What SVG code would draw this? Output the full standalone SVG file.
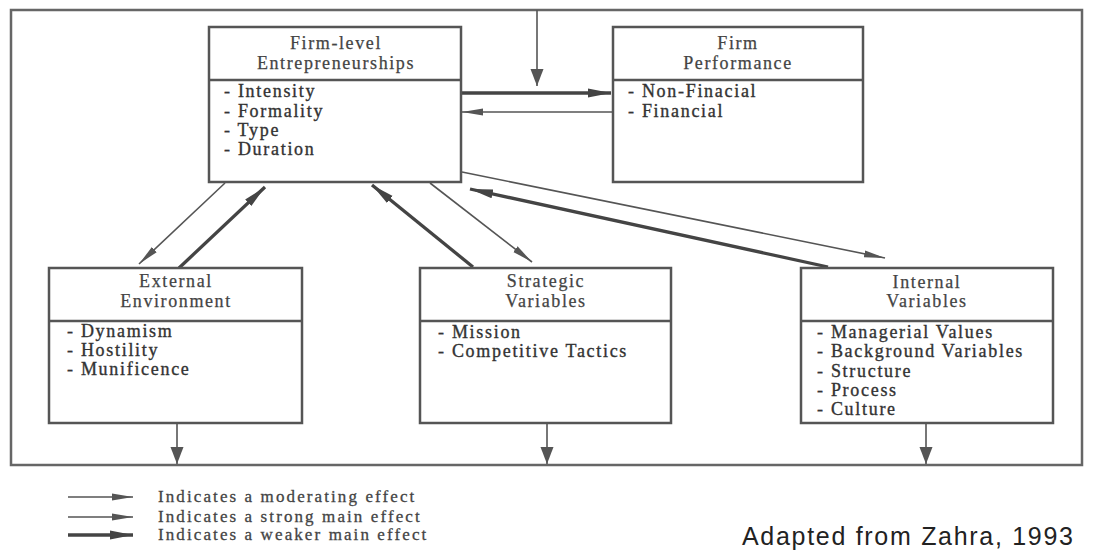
<svg xmlns="http://www.w3.org/2000/svg" width="1093" height="552" viewBox="0 0 1093 552">
<defs>
<style>
.frame{fill:none;stroke:#666;stroke-width:2.5}
.box{fill:#fff;stroke:#555;stroke-width:2.5}
.div{stroke:#555;stroke-width:2.5}
.hd{font-family:"Liberation Serif","Times New Roman",serif;font-size:18px;fill:#444;stroke:#444;stroke-width:0.25;text-anchor:middle;letter-spacing:1.6px}
.it{font-family:"Liberation Serif","Times New Roman",serif;font-size:18px;fill:#333;stroke:#333;stroke-width:0.35;letter-spacing:1.7px}
.lg{font-family:"Liberation Serif","Times New Roman",serif;font-size:17px;fill:#444;stroke:#444;stroke-width:0.3;letter-spacing:2.1px}
.thin{fill:none;stroke:#555;stroke-width:1.6;marker-end:url(#hThin)}
.thick{fill:none;stroke:#444;stroke-width:3.3;marker-end:url(#hThick)}
.vert{fill:none;stroke:#555;stroke-width:1.6;marker-end:url(#hWide)}
.src{font-family:"Liberation Sans",Arial,sans-serif;font-size:25px;fill:#222;letter-spacing:1.7px}
</style>
<marker id="hThin" markerUnits="userSpaceOnUse" markerWidth="22" markerHeight="10" refX="21" refY="4" orient="auto"><path d="M0,0.5 L21,4 L0,7.5 z" fill="#555"/></marker>
<marker id="hThick" markerUnits="userSpaceOnUse" markerWidth="24" markerHeight="11" refX="23" refY="5" orient="auto"><path d="M0,0.5 L23,5 L0,9.5 z" fill="#444"/></marker>
<marker id="hWide" markerUnits="userSpaceOnUse" markerWidth="18" markerHeight="14" refX="17" refY="6.5" orient="auto"><path d="M0,0 L17,6.5 L0,13 z" fill="#555"/></marker>
</defs>
<rect width="1093" height="552" fill="#fff"/>
<rect class="frame" x="11" y="10" width="1071" height="455"/>

<g id="connectors">
<line class="vert" x1="537" y1="10" x2="537" y2="86"/>
<line class="thick" x1="461" y1="93" x2="611" y2="93"/>
<line class="thin" x1="613" y1="112" x2="462" y2="112"/>
<line class="thin" x1="225" y1="183" x2="139" y2="264"/>
<line class="thick" x1="179" y1="268" x2="265" y2="187"/>
<line class="thick" x1="473" y1="267" x2="372" y2="185"/>
<line class="thin" x1="430" y1="183" x2="532" y2="262"/>
<line class="thin" x1="462" y1="172" x2="885" y2="258"/>
<line class="thick" x1="828" y1="267" x2="470" y2="189"/>
<line class="vert" x1="177" y1="424" x2="177" y2="464"/>
<line class="vert" x1="547" y1="424" x2="547" y2="464"/>
<line class="vert" x1="926" y1="424" x2="926" y2="464"/>
</g>

<g id="firm-entrepreneurship">
<rect class="box" x="209" y="27" width="252" height="155"/>
<line class="div" x1="209" y1="80" x2="461" y2="80"/>
<text class="hd" x="336" y="49">Firm-level</text>
<text class="hd" x="336" y="69">Entrepreneurships</text>
<text class="it" x="224" y="97">- Intensity</text>
<text class="it" x="224" y="117">- Formality</text>
<text class="it" x="224" y="136">- Type</text>
<text class="it" x="224" y="155">- Duration</text>
</g>

<g id="firm-performance">
<rect class="box" x="613" y="27" width="250" height="155"/>
<line class="div" x1="613" y1="80" x2="863" y2="80"/>
<text class="hd" x="738" y="49">Firm</text>
<text class="hd" x="738" y="69">Performance</text>
<text class="it" x="628" y="97">- Non-Finacial</text>
<text class="it" x="628" y="117">- Financial</text>
</g>

<g id="external-environment">
<rect class="box" x="49" y="268" width="253" height="155"/>
<line class="div" x1="49" y1="321" x2="302" y2="321"/>
<text class="hd" x="176" y="287">External</text>
<text class="hd" x="176" y="307">Environment</text>
<text class="it" x="67" y="337">- Dynamism</text>
<text class="it" x="67" y="356">- Hostility</text>
<text class="it" x="67" y="375">- Munificence</text>
</g>

<g id="strategic-variables">
<rect class="box" x="420" y="268" width="251" height="155"/>
<line class="div" x1="420" y1="321" x2="671" y2="321"/>
<text class="hd" x="546" y="287">Strategic</text>
<text class="hd" x="546" y="307">Variables</text>
<text class="it" x="438" y="338">- Mission</text>
<text class="it" x="438" y="357">- Competitive Tactics</text>
</g>

<g id="internal-variables">
<rect class="box" x="801" y="268" width="252" height="155"/>
<line class="div" x1="801" y1="321" x2="1053" y2="321"/>
<text class="hd" x="927" y="288">Internal</text>
<text class="hd" x="927" y="307">Variables</text>
<text class="it" x="817" y="338">- Managerial Values</text>
<text class="it" x="817" y="357">- Background Variables</text>
<text class="it" x="817" y="377">- Structure</text>
<text class="it" x="817" y="396">- Process</text>
<text class="it" x="817" y="415">- Culture</text>
</g>

<g id="legend">
<line class="thin" x1="68" y1="497" x2="133" y2="497"/>
<line class="thin" x1="68" y1="517" x2="133" y2="517"/>
<line class="thick" x1="68" y1="535" x2="133" y2="535"/>
<text class="lg" x="158" y="502">Indicates a moderating effect</text>
<text class="lg" x="158" y="522">Indicates a strong main effect</text>
<text class="lg" x="158" y="540">Indicates a weaker main effect</text>
</g>

<g id="source">
<text class="src" x="742" y="545">Adapted from Zahra, 1993</text>
</g>
</svg>
